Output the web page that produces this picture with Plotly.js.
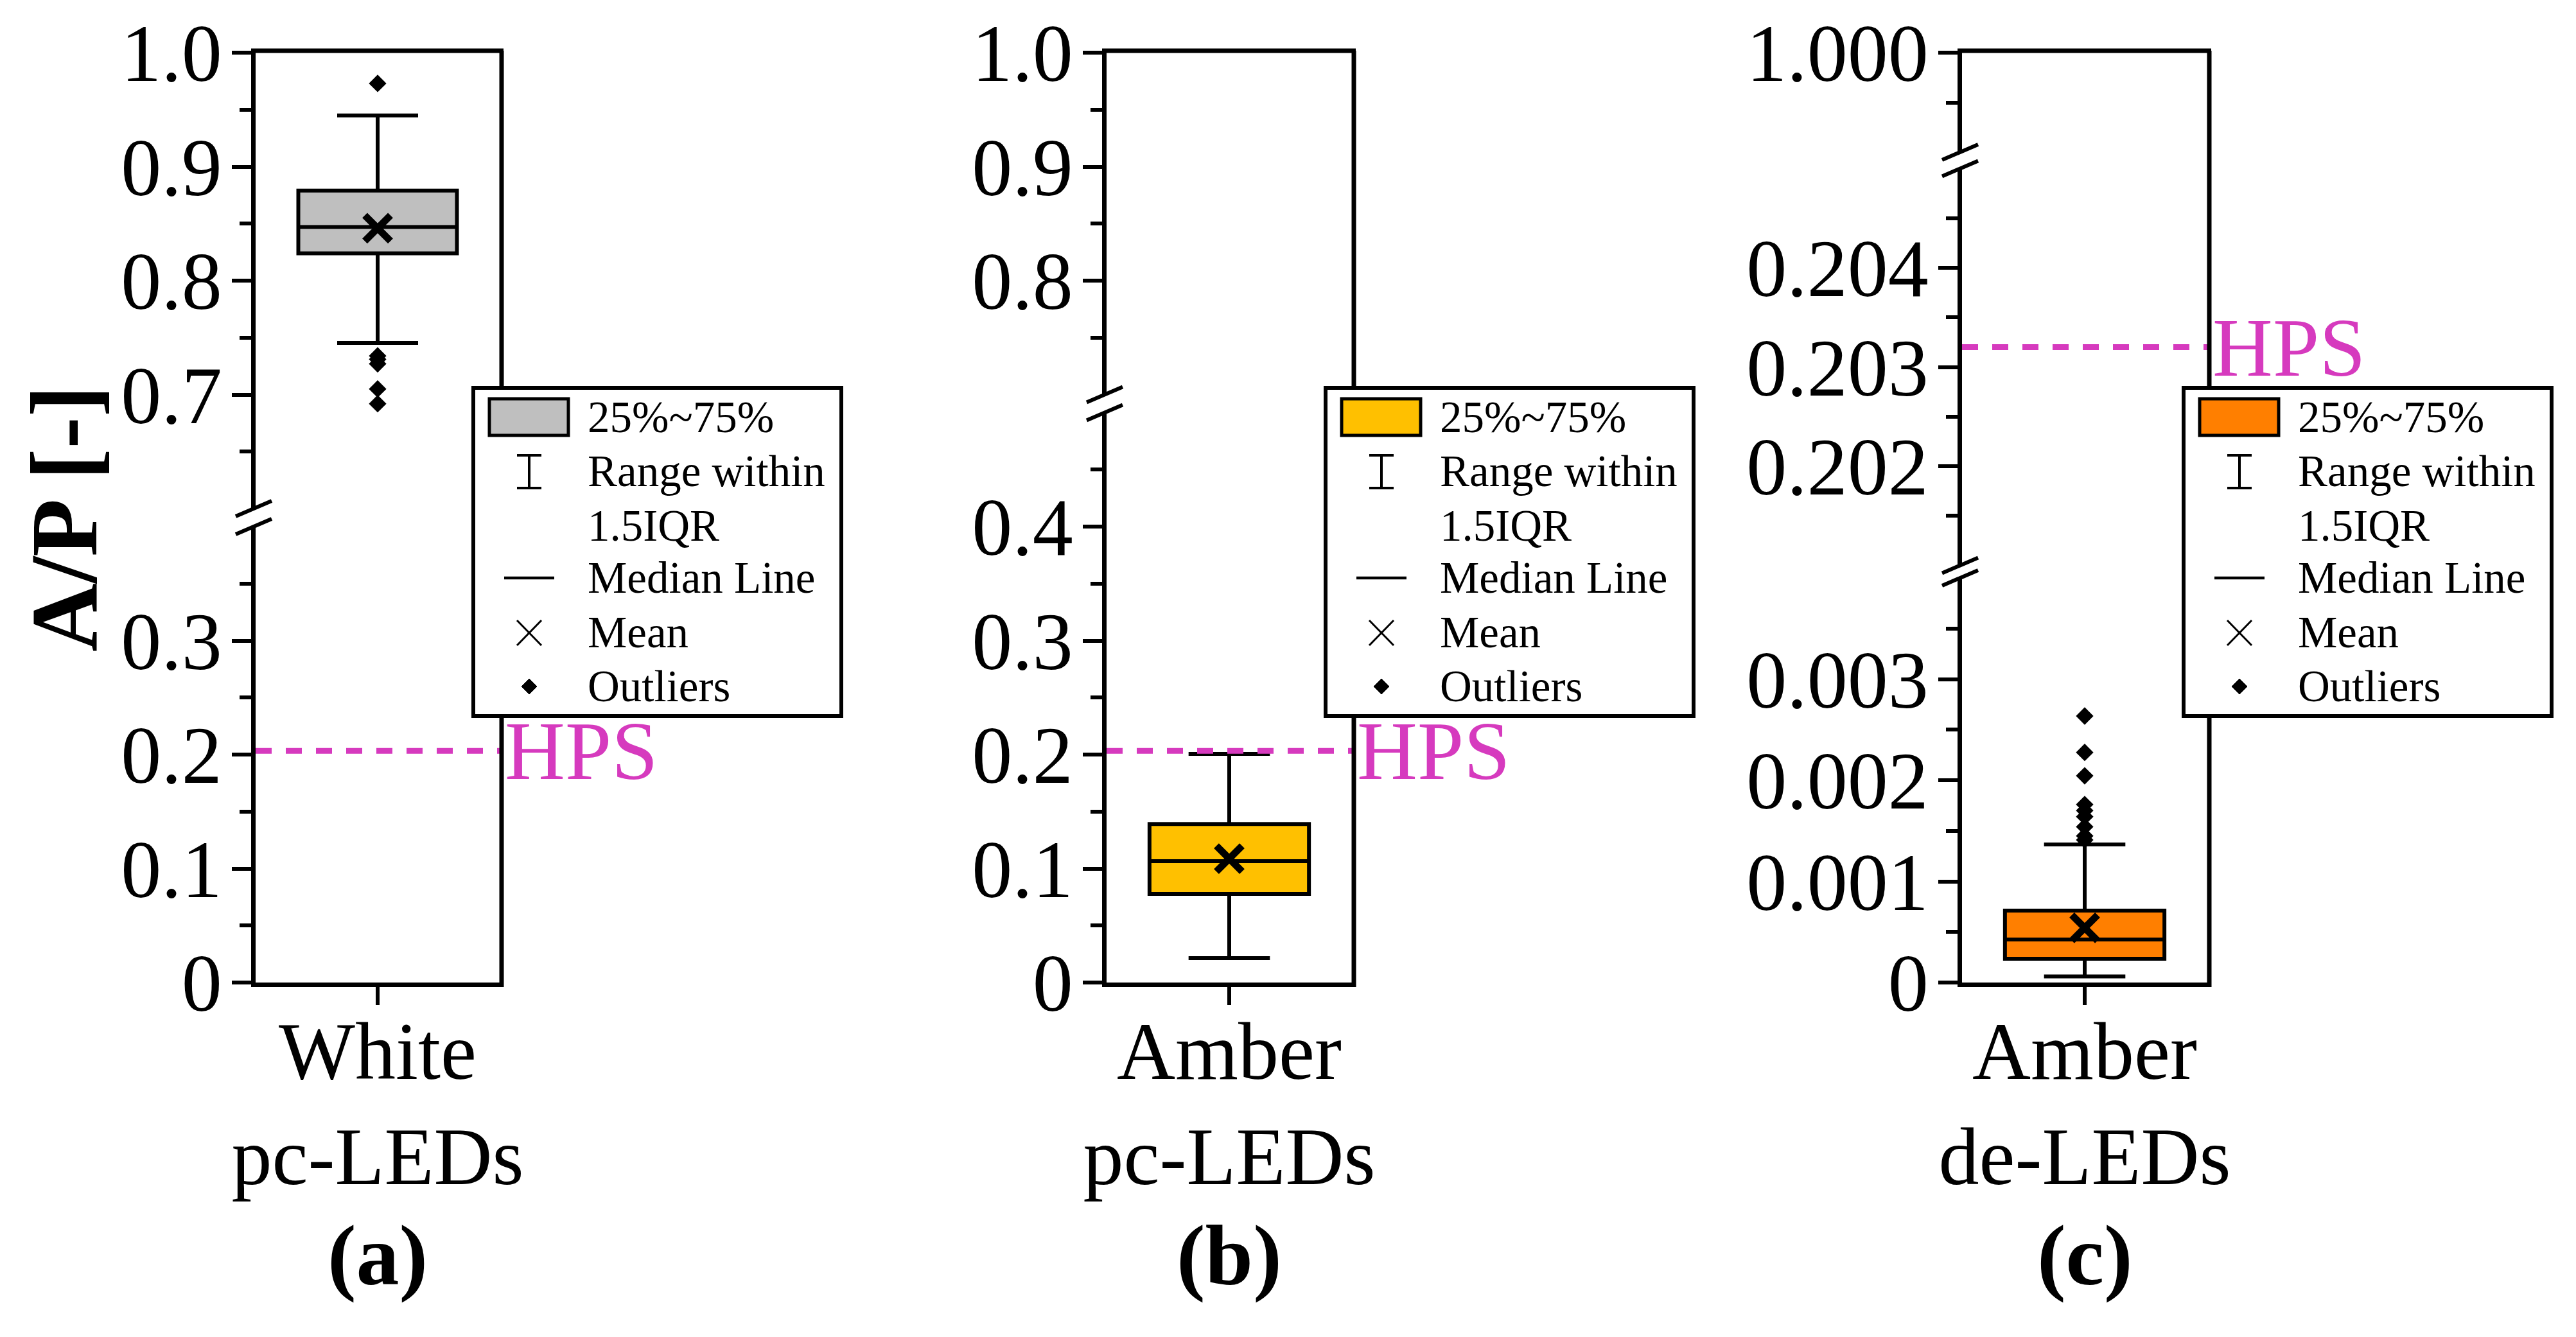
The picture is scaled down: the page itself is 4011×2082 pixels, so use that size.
<!DOCTYPE html>
<html><head><meta charset="utf-8">
<script src="https://cdn.plot.ly/plotly-3.0.1.min.js"></script>
<style>html,body{margin:0;padding:0;background:#fff;} #chart{width:4011px;height:2082px;}</style>
</head><body><div id="chart"></div>
<script>
// ---------------- DATA ----------------
const categories = ['White<br>pc-LEDs', 'Amber<br>pc-LEDs', 'Amber<br>de-LEDs'];
const panelLabels = ['(a)', '(b)', '(c)'];
const q1Values = [0.824, 0.0778, 0.000235];
const medianValues = [0.847, 0.1065, 0.000425];
const q3Values = [0.879, 0.139, 0.000711];
const lowerWhiskers = [0.7454, 0.0214, 0.00006];
const upperWhiskers = [0.945, 0.2006, 0.001365];
const meanValues = [0.846, 0.1087, 0.00054];
const outliersA = [0.973, 0.734, 0.731, 0.727, 0.705, 0.692];
const outliersB = [];
const outliersC = [0.002635, 0.002275, 0.002044, 0.00176, 0.0017, 0.00164, 0.00154, 0.00145, 0.00141];
const outliers = [outliersA, outliersB, outliersC];
const hpsValue = 0.2032;
const hpsLabel = 'HPS';
const yTitle = 'A/P [-]';
const legendLabels = ['25%~75%', 'Range within', '1.5IQR', 'Median Line', 'Mean', 'Outliers'];
const fillColors = ['#BFBFBF', '#FFC000', '#FF7F00'];

// axis segments (ranges and tick labels), bottom segment first
const rangesA = [[0, 0.4], [0.6, 1.0]];
const ticksA = [[0, 0.1, 0.2, 0.3], [0.7, 0.8, 0.9, 1.0]];
const tickTextA = [['0', '0.1', '0.2', '0.3'], ['0.7', '0.8', '0.9', '1.0']];
const minorA = [[0.05, 0.15, 0.25, 0.35], [0.65, 0.75, 0.85, 0.95]];

const rangesB = [[0, 0.5], [0.7, 1.0]];
const ticksB = [[0, 0.1, 0.2, 0.3, 0.4], [0.8, 0.9, 1.0]];
const tickTextB = [['0', '0.1', '0.2', '0.3', '0.4'], ['0.8', '0.9', '1.0']];
const minorB = [[0.05, 0.15, 0.25, 0.35, 0.45], [0.75, 0.85, 0.95]];

const rangesC = [[0, 0.004], [0.201, 0.205], [0.999, 1.0]];
const ticksC = [[0, 0.001, 0.002, 0.003], [0.202, 0.203, 0.204], [1.0]];
const tickTextC = [['0', '0.001', '0.002', '0.003'], ['0.202', '0.203', '0.204'], ['1.000']];
const minorC = [[0.0005, 0.0015, 0.0025, 0.0035], [0.2015, 0.2025, 0.2035, 0.2045], [0.9995]];

// ---------------- LAYOUT GEOMETRY (pixels) ----------------
const W = 4011, H = 2082;
const FONT = 'Liberation Serif, "Times New Roman", Times, serif';
const MAGENTA = '#D63ABE';
const X = px => px / W;
const Y = py => 1 - py / H;
const panelX = [[398, 778], [1723, 2105], [3055, 3437]];
const segPx = [
  [[820, 1530], [82, 792]],
  [[642.5, 1530], [82, 614.5]],
  [[900, 1530], [262.5, 880.5], [82, 237]]
];
const panelRanges = [rangesA, rangesB, rangesC];
const panelTicks = [ticksA, ticksB, ticksC];
const panelTickText = [tickTextA, tickTextB, tickTextC];
const panelMinor = [minorA, minorB, minorC];
const legendLeft = [737, 2064, 3400];

const tickFont = {family: FONT, size: 126, color: 'black'};
const data = [];
const layout = {
  width: W, height: H,
  margin: {l: 0, r: 0, t: 0, b: 0},
  paper_bgcolor: 'white', plot_bgcolor: 'rgba(0,0,0,0)',
  showlegend: false,
  shapes: [], annotations: []
};

let yCount = 0;
for (let p = 0; p < 3; p++) {
  const xid = p === 0 ? 'x' : 'x' + (p + 1);
  const xKey = p === 0 ? 'xaxis' : 'xaxis' + (p + 1);
  const [px0, px1] = panelX[p];
  const yids = [];
  for (let s = 0; s < panelRanges[p].length; s++) {
    yCount++;
    const yid = yCount === 1 ? 'y' : 'y' + yCount;
    const yKey = yCount === 1 ? 'yaxis' : 'yaxis' + yCount;
    yids.push(yid);
    const [top, bot] = segPx[p][s];
    layout[yKey] = {
      domain: [Y(bot), Y(top)], anchor: xid, range: panelRanges[p][s],
      tickmode: 'array', tickvals: panelTicks[p][s], ticktext: panelTickText[p][s],
      ticks: 'outside', ticklen: 30, tickwidth: 6, tickcolor: 'black',
      minor: {tickmode: 'array', tickvals: panelMinor[p][s], ticks: 'outside', ticklen: 18, tickwidth: 6, tickcolor: 'black', showgrid: false},
      showline: true, linewidth: 7, linecolor: 'black',
      showgrid: false, zeroline: false, tickfont: tickFont, ticklabelstandoff: -10,
      fixedrange: true
    };
    data.push({
      type: 'box', xaxis: xid, yaxis: yid, x: [categories[p]],
      q1: [q1Values[p]], median: [medianValues[p]], q3: [q3Values[p]],
      lowerfence: [lowerWhiskers[p]], upperfence: [upperWhiskers[p]],
      fillcolor: fillColors[p], line: {color: 'black', width: 6},
      width: 0.65, whiskerwidth: 0.51, boxpoints: false, hoverinfo: 'skip'
    });
    if (outliers[p].length) {
      data.push({
        type: 'scatter', mode: 'markers', xaxis: xid, yaxis: yid,
        x: outliers[p].map(() => categories[p]), y: outliers[p],
        marker: {symbol: 'diamond', size: 21, color: 'black'}, hoverinfo: 'skip'
      });
    }
    data.push({
      type: 'scatter', mode: 'markers', xaxis: xid, yaxis: yid,
      x: [categories[p]], y: [meanValues[p]],
      marker: {symbol: 'x-thin', size: 40, color: 'black', line: {width: 11, color: 'black'}}, hoverinfo: 'skip'
    });
    const r = panelRanges[p][s];
    if (hpsValue >= r[0] && hpsValue <= r[1]) {
      layout.shapes.push({type: 'line', xref: xid + ' domain', x0: 0, x1: 1, yref: yid, y0: hpsValue, y1: hpsValue,
        line: {color: MAGENTA, width: 9, dash: '25px,22px'}, layer: 'above'});
      layout.annotations.push({xref: xid + ' domain', x: 1, xanchor: 'left', xshift: 6, yref: yid, y: hpsValue, yanchor: 'middle',
        text: hpsLabel, showarrow: false, font: {family: FONT, size: 130, color: MAGENTA}});
    }
  }
  layout[xKey] = {
    domain: [X(px0), X(px1)], anchor: yids[0], type: 'category', range: [-0.5, 0.5],
    ticks: 'outside', ticklen: 28, tickwidth: 6, tickcolor: 'black', tickangle: 0,
    showline: true, linewidth: 7, linecolor: 'black', showgrid: false, zeroline: false,
    tickfont: tickFont, ticklabelstandoff: -36, fixedrange: true
  };
  // frame: right and top lines
  const topPx = 82, botPx = 1530;
  layout.shapes.push({type: 'line', xref: 'paper', yref: 'paper', x0: X(px1 + 3), x1: X(px1 + 3), y0: Y(botPx + 7), y1: Y(topPx - 3), line: {color: 'black', width: 7}, layer: 'above'});
  layout.shapes.push({type: 'line', xref: 'paper', yref: 'paper', x0: X(px0 - 7), x1: X(px1 + 6), y0: Y(topPx - 3), y1: Y(topPx - 3), line: {color: 'black', width: 7}, layer: 'above'});
  // axis break marks
  for (let s = 0; s + 1 < segPx[p].length; s++) {
    const lowerTop = segPx[p][s][0];
    const upperBot = segPx[p][s + 1][1];
    [upperBot, lowerTop].forEach(py => {
      layout.shapes.push({type: 'line', xref: 'paper', yref: 'paper',
        x0: X(px0 - 31), y0: Y(py + 12), x1: X(px0 + 25), y1: Y(py - 12),
        line: {color: 'black', width: 6}, layer: 'above'});
    });
  }
  layout.annotations.push({xref: xid + ' domain', x: 0.5, xanchor: 'center', yref: 'paper', y: Y(1955), yanchor: 'middle',
    text: '<b>' + panelLabels[p] + '</b>', showarrow: false, font: {family: FONT, size: 134, color: 'black'}});

  // legend box
  const L = legendLeft[p];
  const cx = L + 87;
  layout.shapes.push({type: 'rect', xref: 'paper', yref: 'paper', x0: X(L), x1: X(L + 573), y0: Y(1115), y1: Y(604),
    fillcolor: 'white', line: {color: 'black', width: 6}, layer: 'above'});
  layout.shapes.push({type: 'rect', xref: 'paper', yref: 'paper', x0: X(L + 25), x1: X(L + 148), y0: Y(678), y1: Y(621),
    fillcolor: fillColors[p], line: {color: 'black', width: 5}, layer: 'above'});
  const seg = (ax, ay, bx, by, w) => layout.shapes.push({type: 'line', xref: 'paper', yref: 'paper',
    x0: X(ax), y0: Y(ay), x1: X(bx), y1: Y(by), line: {color: 'black', width: w}, layer: 'above'});
  seg(cx, 709, cx, 760, 4);
  seg(cx - 19, 709, cx + 19, 709, 4);
  seg(cx - 19, 760, cx + 19, 760, 4);
  seg(L + 48, 900, L + 126, 900, 4.5);
  seg(cx - 19, 966, cx + 19, 1005, 3);
  seg(cx - 19, 1005, cx + 19, 966, 3);
  layout.shapes.push({type: 'path', xref: 'paper', yref: 'paper',
    path: `M ${X(cx)} ${Y(1057)} L ${X(cx + 12)} ${Y(1069)} L ${X(cx)} ${Y(1081)} L ${X(cx - 12)} ${Y(1069)} Z`,
    fillcolor: 'black', line: {color: 'black', width: 1}, layer: 'above'});
  const rows = [650, 734, 819, 900, 985, 1069];
  legendLabels.forEach((t, i) => {
    layout.annotations.push({xref: 'paper', yref: 'paper', x: X(L + 176), xanchor: 'left', y: Y(rows[i]), yanchor: 'middle',
      text: t, showarrow: false, font: {family: FONT, size: 69, color: 'black'}});
  });
}

// y-axis title
layout.annotations.push({xref: 'paper', yref: 'paper', x: X(100), y: Y(808), xanchor: 'center', yanchor: 'middle',
  text: '<b>' + yTitle + '</b>', textangle: -90, showarrow: false, font: {family: FONT, size: 148, color: 'black'}});

Plotly.newPlot('chart', data, layout, {staticPlot: true, displayModeBar: false});
</script></body></html>
